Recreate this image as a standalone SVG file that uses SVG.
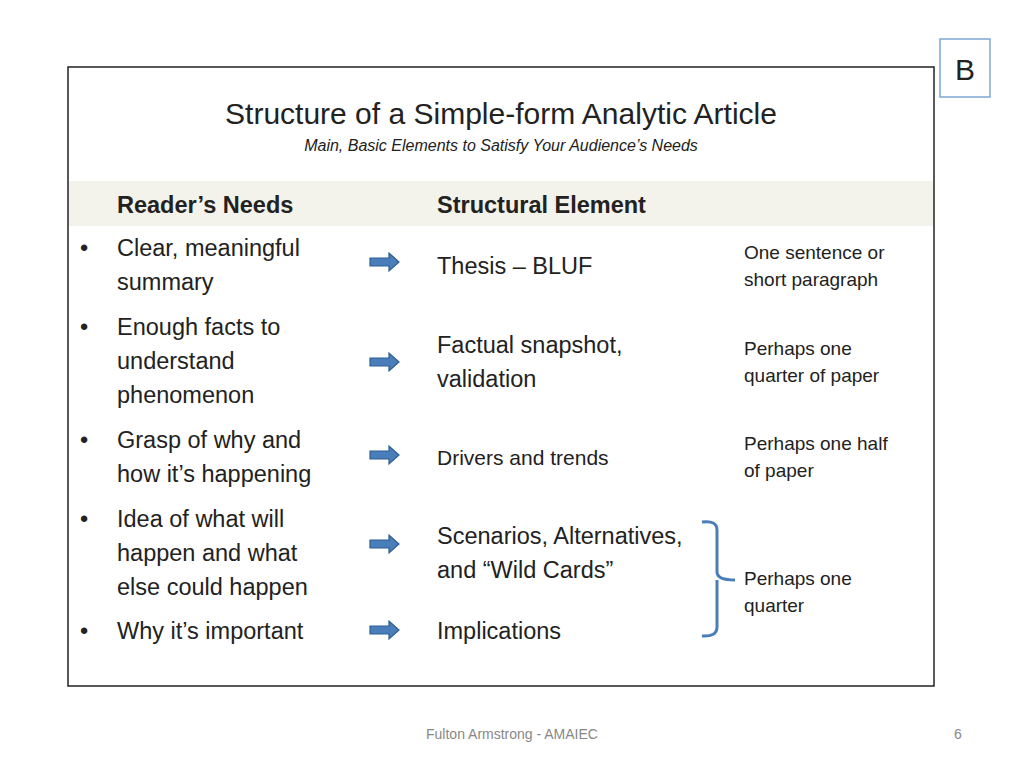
<svg xmlns="http://www.w3.org/2000/svg" width="1024" height="768" viewBox="0 0 1024 768">
<style>
text{font-family:"Liberation Sans","Open Sans",sans-serif;fill:#222}
.b{font-size:23.5px}
.s{font-size:19px}
.h{font-size:23.5px;font-weight:bold}
</style>
<defs>
<g id="arr"><path d="M0,-4 H19 V-9 L29,0 L19,9 V4 H0 Z" fill="#4a7ebb" stroke="#2e5d91" stroke-width="1.2"/></g>
</defs>
<rect width="1024" height="768" fill="#fff"/>
<g id="badge"><rect x="940" y="39" width="50" height="58" fill="#fff" stroke="#7da6d6" stroke-width="1.5"/><text x="965" y="80" text-anchor="middle" style="font-size:30px">B</text></g>
<g id="frame"><rect x="68" y="67" width="866" height="619" fill="#fff" stroke="#222" stroke-width="1.5"/>
<rect x="69" y="181" width="864" height="45" fill="#f3f3ec"/></g>
<g id="title"><text x="501" y="124" text-anchor="middle" style="font-size:30px">Structure of a Simple-form Analytic Article</text>
<text x="501" y="151" text-anchor="middle" style="font-size:16px;font-style:italic">Main, Basic Elements to Satisfy Your Audience’s Needs</text></g>
<g id="headers"><text class="h" x="117" y="213">Reader’s Needs</text><text class="h" x="437" y="213">Structural Element</text></g>
<g id="needs">
<text class="b" x="80" y="256">•</text><text class="b" x="117" y="256">Clear, meaningful</text><text class="b" x="117" y="290">summary</text>
<text class="b" x="80" y="335">•</text><text class="b" x="117" y="335">Enough facts to</text><text class="b" x="117" y="369">understand</text><text class="b" x="117" y="403">phenomenon</text>
<text class="b" x="80" y="448">•</text><text class="b" x="117" y="448">Grasp of why and</text><text class="b" x="117" y="482">how it’s happening</text>
<text class="b" x="80" y="527">•</text><text class="b" x="117" y="527">Idea of what will</text><text class="b" x="117" y="561">happen and what</text><text class="b" x="117" y="595">else could happen</text>
<text class="b" x="80" y="639">•</text><text class="b" x="117" y="639">Why it’s important</text>
</g>
<g id="elements">
<text class="b" x="437" y="274">Thesis – BLUF</text>
<text class="b" x="437" y="353">Factual snapshot,</text><text class="b" x="437" y="387">validation</text>
<text x="437" y="465" style="font-size:21px">Drivers and trends</text>
<text class="b" x="437" y="544">Scenarios, Alternatives,</text><text class="b" x="437" y="578">and “Wild Cards”</text>
<text class="b" x="437" y="639">Implications</text>
</g>
<g id="notes">
<text class="s" x="744" y="259">One sentence or</text><text class="s" x="744" y="286">short paragraph</text>
<text class="s" x="744" y="355">Perhaps one</text><text class="s" x="744" y="382">quarter of paper</text>
<text class="s" x="744" y="450">Perhaps one half</text><text class="s" x="744" y="477">of paper</text>
<text class="s" x="744" y="585">Perhaps one</text><text class="s" x="744" y="612">quarter</text>
</g>
<g id="connectors">
<use href="#arr" x="370" y="262"/>
<use href="#arr" x="370" y="362"/>
<use href="#arr" x="370" y="455"/>
<use href="#arr" x="370" y="544"/>
<use href="#arr" x="370" y="630"/>
<path d="M702,522 Q717,520 717,530 V572 Q717,580 735,580 M717,580 V627 Q717,637 702,636" fill="none" stroke="#4a7ebb" stroke-width="3"/>
</g>
<g id="footer"><text x="512" y="739" text-anchor="middle" style="font-size:14px;fill:#888">Fulton Armstrong - AMAIEC</text><text x="958" y="739" text-anchor="middle" style="font-size:14px;fill:#888">6</text></g>
</svg>
